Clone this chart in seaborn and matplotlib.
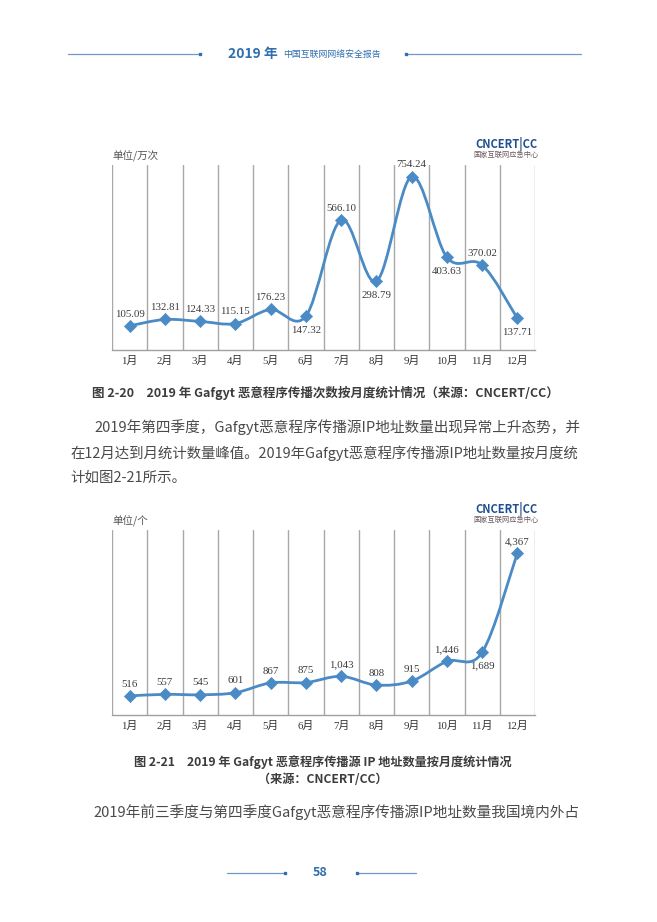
import numpy as np
import pandas as pd
import matplotlib
matplotlib.use('Agg')
import matplotlib.pyplot as plt
from matplotlib.path import Path
from matplotlib.patches import PathPatch
import seaborn as sns

# data
months = ['1月', '2月', '3月', '4月', '5月', '6月', '7月', '8月', '9月', '10月', '11月', '12月']
spread_counts = [105.09, 132.81, 124.33, 115.15, 176.23, 147.32, 566.10, 298.79, 754.24, 403.63, 370.02, 137.71]
ip_counts = [516, 557, 545, 601, 867, 875, 1043, 808, 915, 1446, 1689, 4367]

sns.set_theme(style='white')
plt.rcParams['font.family'] = ['Noto Sans CJK SC', 'DejaVu Sans']

W, H = 657, 922
fig = plt.figure(figsize=(W / 100, H / 100), dpi=100)
fig.patch.set_facecolor('white')

BLUE = '#4b8bc5'
HEAD = '#2f6fae'
SERIF = ['Liberation Serif', 'Noto Sans CJK SC']


def px(x, y):
    return x / W, 1 - y / H


def ftext(x, y, s, **kw):
    fig.text(*px(x, y), s, **kw)


def hline(x0, x1, y, dot_at):
    fig.add_artist(plt.Line2D([x0 / W, x1 / W], [1 - y / H] * 2, color='#6d9acb', lw=0.9))
    fig.add_artist(plt.Line2D([dot_at / W], [1 - y / H], marker='s', ms=2, color=HEAD))


def smooth_path(xs, ys):
    # catmull-rom style curve through the data points (like excel's smoothed line)
    pts = np.column_stack([xs, ys]).astype(float)
    n = len(pts)
    verts = [pts[0]]
    codes = [Path.MOVETO]
    for i in range(n - 1):
        p0 = pts[max(i - 1, 0)]
        p1 = pts[i]
        p2 = pts[i + 1]
        p3 = pts[min(i + 2, n - 1)]
        verts += [p1 + (p2 - p0) / 6, p2 - (p3 - p1) / 6, p2]
        codes += [Path.CURVE4] * 3
    return Path(verts, codes)


def draw_chart(top, bottom, values, ymax, unit, labels, below):
    ax = fig.add_axes([112 / W, 1 - bottom / H, (535 - 112) / W, (bottom - top) / H])
    df = pd.DataFrame({'pos': np.arange(len(values)), 'value': values, 'month': months})
    ax.add_patch(PathPatch(smooth_path(df['pos'], df['value']), facecolor='none',
                           edgecolor=BLUE, lw=2.0, capstyle='round', zorder=2))
    sns.scatterplot(data=df, x='pos', y='value', marker='D', s=38, color=BLUE,
                    edgecolor=BLUE, linewidth=0.5, ax=ax, zorder=3, legend=False)
    for (p, v, lab, b) in zip(df['pos'], df['value'], labels, below):
        ax.annotate(lab, (p, v), xytext=(0, -10 if b else 8.5), textcoords='offset points',
                    ha='center', va='center', fontsize=7.8, color='#3a3a3a', family=SERIF)
    ax.set_xlim(-0.5, len(values) - 0.5)
    ax.set_ylim(0, ymax)
    ax.set_xticks(df['pos'])
    ax.set_xticklabels(df['month'], family=SERIF, fontsize=7.8, color='#333333')
    ax.set_xticks(np.arange(-0.5, len(values), 1), minor=True)
    ax.set_yticks([])
    ax.tick_params(axis='x', which='both', length=0, pad=4)
    ax.grid(False)
    ax.grid(which='minor', axis='x', color='#a8a8a8', lw=1.0)
    ax.set_axisbelow(True)
    for s in ['left', 'right', 'top']:
        ax.spines[s].set_visible(False)
    ax.spines['bottom'].set_color('#a0a0a0')
    ax.spines['bottom'].set_linewidth(1.0)
    ax.set_xlabel('')
    ax.set_ylabel('')
    ftext(112, top - 9, unit, fontsize=7.6, color='#555555', va='center', ha='left')
    ftext(506, top - 21, 'CNCERT|CC', fontsize=8, fontweight='bold', color='#1f4f8f',
          va='center', ha='center')
    ftext(506, top - 10, '国家互联网应急中心', fontsize=5.2, color='#6a5a60', va='center', ha='center')
    return ax


# header
hline(68, 200, 54, 200)
hline(406, 581, 54, 406)
ftext(228, 54, '2019 年', fontsize=10, fontweight='bold', color=HEAD, va='center', ha='left')
ftext(283, 54, '中国互联网网络安全报告', fontsize=6.4, color=HEAD, va='center', ha='left')

# chart 2-20
draw_chart(165, 350, spread_counts, 805, '单位/万次',
           [f'{v:.2f}' for v in spread_counts],
           [False, False, False, False, False, True, False, True, False, True, False, True])

cap = dict(fontweight='bold', color='#3c3c3c', va='center')
ftext(92, 393, '图 2-20　2019 年 Gafgyt 恶意程序传播次数按月度统计情况（来源：CNCERT/CC）',
      ha='left', fontsize=9.0, **cap)

para = dict(color='#4a4a4a', va='center', ha='left')
ftext(94, 427, '2019年第四季度，Gafgyt恶意程序传播源IP地址数量出现异常上升态势，并',
      fontsize=10.55, **para)
ftext(70, 453, '在12月达到月统计数量峰值。2019年Gafgyt恶意程序传播源IP地址数量按月度统',
      fontsize=10.4, **para)
ftext(70, 478, '计如图2-21所示。', fontsize=10.45, **para)

# chart 2-21
draw_chart(530, 715, ip_counts, 4990, '单位/个',
           [f'{v:,}' for v in ip_counts],
           [False] * 10 + [True, False])

ftext(134, 762, '图 2-21　2019 年 Gafgyt 恶意程序传播源 IP 地址数量按月度统计情况',
      ha='left', fontsize=8.75, **cap)
ftext(323, 779, '（来源：CNCERT/CC）', ha='center', fontsize=8.75, **cap)
ftext(93, 812, '2019年前三季度与第四季度Gafgyt恶意程序传播源IP地址数量我国境内外占',
      fontsize=10.55, **para)

# footer
hline(227, 285, 873, 285)
hline(357, 416, 873, 357)
ftext(320, 873, '58', fontsize=9, fontweight='bold', color=HEAD, va='center', ha='center')

fig.savefig('out.png', dpi=100, facecolor='white')
